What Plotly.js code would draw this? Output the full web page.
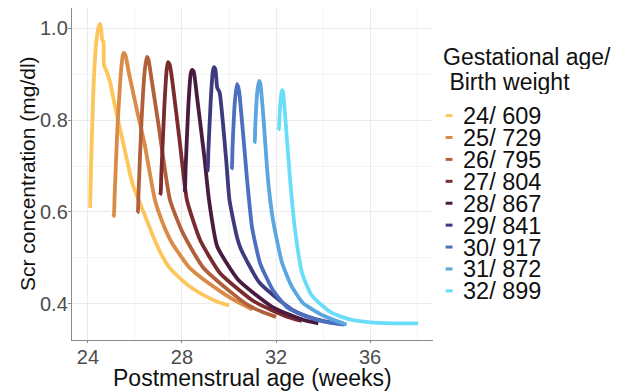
<!DOCTYPE html>
<html>
<head>
<meta charset="utf-8">
<script src="https://cdn.plot.ly/plotly-3.0.1.min.js"></script>
<style>html,body{margin:0;padding:0;background:#fff;}#chart{width:620px;height:392px;}</style>
</head>
<body>
<div id="chart"></div>
<script>
// Legend labels (gestational age / birth weight) and colours
const groupLabels = ["24/ 609", "25/ 729", "26/ 795", "27/ 804", "28/ 867", "29/ 841", "30/ 917", "31/ 872", "32/ 899"];
const groupColors = ["#FDC65A", "#D98B47", "#B1603B", "#7A2B2F", "#4A1B40", "#3D3A7E", "#4A70BF", "#5AA6DE", "#6ADDFB"];

// Postmenstrual age (weeks) and Scr (mg/dl)
const pma24 = [24.09, 24.13, 24.22, 24.32, 24.42, 24.50, 24.56, 24.60, 24.66, 24.68, 24.80, 24.95, 25.15, 25.50, 25.90, 26.38, 26.72, 27.10, 27.45, 28.00, 28.50, 29.00, 29.50, 30.00];
const scr24 = [0.609, 0.70, 0.85, 0.95, 0.995, 1.009, 1.00, 0.975, 0.97, 0.92, 0.905, 0.88, 0.83, 0.75, 0.66, 0.598, 0.554, 0.51, 0.48, 0.452, 0.432, 0.417, 0.405, 0.397];

const pma25 = [25.06, 25.10, 25.13, 25.25, 25.38, 25.48, 25.53, 25.60, 25.75, 26.09, 26.40, 26.85, 27.15, 27.57, 28.30, 28.85, 29.62, 30.10, 30.60, 31.00];
const scr25 = [0.589, 0.592, 0.63, 0.78, 0.89, 0.94, 0.946, 0.94, 0.90, 0.82, 0.75, 0.626, 0.58, 0.533, 0.48, 0.456, 0.428, 0.412, 0.398, 0.388];

const pma26 = [26.09, 26.12, 26.15, 26.28, 26.42, 26.51, 26.58, 26.70, 27.00, 27.49, 28.04, 28.89, 30.17, 30.80, 31.40, 32.00];
const scr26 = [0.598, 0.60, 0.64, 0.80, 0.91, 0.937, 0.93, 0.89, 0.79, 0.626, 0.554, 0.48, 0.422, 0.398, 0.383, 0.372];

const pma27 = [27.06, 27.09, 27.12, 27.25, 27.35, 27.40, 27.48, 27.60, 27.91, 28.21, 28.77, 29.62, 31.02, 31.80, 32.50, 33.10];
const scr27 = [0.637, 0.64, 0.68, 0.83, 0.91, 0.926, 0.92, 0.88, 0.75, 0.626, 0.539, 0.467, 0.407, 0.387, 0.372, 0.363];

const pma28 = [28.09, 28.12, 28.15, 28.27, 28.37, 28.43, 28.50, 28.64, 28.95, 29.15, 29.50, 30.40, 31.80, 32.50, 33.20, 33.80];
const scr28 = [0.643, 0.645, 0.69, 0.83, 0.90, 0.909, 0.905, 0.85, 0.72, 0.626, 0.525, 0.452, 0.395, 0.378, 0.365, 0.358];

const pma29 = [29.06, 29.09, 29.12, 29.22, 29.31, 29.36, 29.42, 29.50, 29.60, 29.88, 30.02, 30.34, 30.50, 31.30, 32.70, 33.50, 34.30, 34.90];
const scr29 = [0.689, 0.69, 0.73, 0.84, 0.905, 0.915, 0.91, 0.87, 0.86, 0.713, 0.626, 0.545, 0.52, 0.446, 0.387, 0.37, 0.36, 0.356];

const pma30 = [30.09, 30.12, 30.15, 30.25, 30.34, 30.40, 30.46, 30.77, 30.98, 31.32, 31.87, 32.47, 33.20, 34.00, 34.90];
const scr30 = [0.693, 0.695, 0.74, 0.84, 0.878, 0.87, 0.85, 0.67, 0.567, 0.489, 0.43, 0.393, 0.375, 0.362, 0.355];

const pma31 = [31.06, 31.09, 31.12, 31.20, 31.28, 31.33, 31.45, 31.66, 31.87, 32.26, 32.68, 33.15, 34.00, 35.00];
const scr31 = [0.75, 0.752, 0.79, 0.86, 0.885, 0.88, 0.815, 0.67, 0.583, 0.489, 0.437, 0.402, 0.375, 0.355];

const pma32 = [32.09, 32.12, 32.15, 32.22, 32.26, 32.30, 32.38, 32.60, 32.81, 33.11, 33.50, 34.00, 34.40, 35.10, 36.00, 37.00, 38.05];
const scr32 = [0.778, 0.78, 0.81, 0.855, 0.865, 0.86, 0.815, 0.67, 0.561, 0.467, 0.42, 0.395, 0.38, 0.367, 0.36, 0.358, 0.358];

const xTicks = [24, 28, 32, 36];
const xMinor = [26, 30, 34, 38];
const yTicks = [0.4, 0.6, 0.8, 1.0];
const yTickText = ["0.4", "0.6", "0.8", "1.0"];
const yMinor = [0.5, 0.7, 0.9];

const xTitle = 'Postmenstrual age (weeks)';
const yTitle = 'Scr concentration (mg/dl)';
const legendTitle = ['Gestational age/', '\u00a0Birth weight'];

const xs = [pma24, pma25, pma26, pma27, pma28, pma29, pma30, pma31, pma32];
const ys = [scr24, scr25, scr26, scr27, scr28, scr29, scr30, scr31, scr32];

const traces = xs.map((x, i) => ({
  type: 'scatter', mode: 'lines', x: x, y: ys[i], name: groupLabels[i],
  line: {color: groupColors[i], width: 3.8, shape: 'spline', smoothing: 0.5}, showlegend: false, hoverinfo: 'skip'
}));

const FONT = 'Liberation Sans, Arial, sans-serif';
// Axis titles as paper-anchored text
const annotations = [
  {xref: 'paper', yref: 'paper', x: 0.5, y: 0, yshift: -38, xanchor: 'center', yanchor: 'middle', showarrow: false,
   text: xTitle, font: {family: FONT, size: 23, color: '#111'}},
  {xref: 'paper', yref: 'paper', x: 0, y: 0.5, xshift: -45, xanchor: 'center', yanchor: 'middle', showarrow: false,
   textangle: -90, text: yTitle, font: {family: FONT, size: 21, color: '#111'}},
  {xref: 'paper', yref: 'paper', x: 1.022, y: 0.852, xanchor: 'left', yanchor: 'middle', showarrow: false,
   height: 24, text: legendTitle[0], font: {family: FONT, size: 23, color: '#111'}},
  {xref: 'paper', yref: 'paper', x: 1.022, y: 0.776, xanchor: 'left', yanchor: 'middle', showarrow: false,
   height: 24, text: legendTitle[1], font: {family: FONT, size: 23, color: '#111'}}
];
// Legend entries: text + short colour keys
const legTop = 0.676, legStep = 0.066;
const shapes = [];
groupLabels.forEach((lab, i) => {
  const yy = legTop - i * legStep;
  annotations.push({xref: 'paper', yref: 'paper', x: 1.08, y: yy, xanchor: 'left', yanchor: 'middle', showarrow: false,
    height: 21, borderpad: 0, text: lab, font: {family: FONT, size: 23.5, color: '#111'}});
  shapes.push({type: 'line', xref: 'paper', yref: 'paper', x0: 1.035, x1: 1.054, y0: yy, y1: yy,
    line: {color: groupColors[i], width: 3}});
});

const layout = {
  width: 620, height: 392,
  margin: {l: 72, r: 187, t: 8, b: 52},
  paper_bgcolor: '#fff', plot_bgcolor: '#fff',
  font: {family: FONT},
  xaxis: {
    range: [23.32, 38.68], tickvals: xTicks, ticktext: xTicks.map(String),
    showgrid: true, gridcolor: '#EBEBEB', gridwidth: 1, zeroline: false,
    minor: {tickvals: xMinor, showgrid: true, gridcolor: '#F4F4F4', gridwidth: 1, ticks: ''},
    showline: true, linecolor: '#8A8A8A', linewidth: 1.2,
    ticks: 'outside', ticklen: 2, tickcolor: '#8A8A8A',
    tickfont: {size: 20, color: '#4D4D4D'}, ticklabelstandoff: -3,
    automargin: false
  },
  yaxis: {
    range: [0.3217, 1.0435], tickvals: yTicks, ticktext: yTickText,
    showgrid: true, gridcolor: '#EBEBEB', gridwidth: 1, zeroline: false,
    minor: {tickvals: yMinor, showgrid: true, gridcolor: '#F4F4F4', gridwidth: 1, ticks: ''},
    showline: true, linecolor: '#8A8A8A', linewidth: 1.2,
    ticks: 'outside', ticklen: 3, tickcolor: '#8A8A8A',
    tickfont: {size: 20, color: '#4D4D4D'}, ticklabelstandoff: -4,
    automargin: false
  },
  showlegend: false,
  annotations: annotations,
  shapes: shapes
};

Plotly.newPlot('chart', traces, layout, {staticPlot: true, displayModeBar: false});
</script>
</body>
</html>
